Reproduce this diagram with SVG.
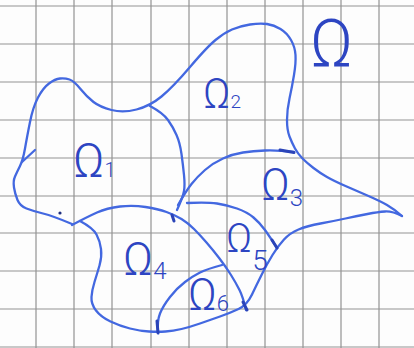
<svg xmlns="http://www.w3.org/2000/svg" width="414" height="348" viewBox="0 0 414 348">
<style>
.grid line{stroke:#939393;stroke-width:1.2}
.pen{fill:none;stroke:#4368e0;stroke-width:2.3;stroke-linecap:round;stroke-linejoin:round}
.tick{fill:none;stroke:#2b44b8;stroke-width:3;stroke-linecap:round}
.lbl{font-family:Roboto,"Liberation Sans",Arial,sans-serif;font-weight:300;fill:#2d45c2}
</style>
<rect width="414" height="348" fill="#fdfdfd"/>
<g class="grid">
<line x1="36" y1="0" x2="36" y2="348"/><line x1="74" y1="0" x2="74" y2="348"/><line x1="112" y1="0" x2="112" y2="348"/><line x1="151" y1="0" x2="151" y2="348"/><line x1="189" y1="0" x2="189" y2="348"/><line x1="227" y1="0" x2="227" y2="348"/><line x1="265" y1="0" x2="265" y2="348"/><line x1="303" y1="0" x2="303" y2="348"/><line x1="341" y1="0" x2="341" y2="348"/><line x1="379" y1="0" x2="379" y2="348"/>
<line x1="0" y1="6" x2="414" y2="6"/><line x1="0" y1="44" x2="414" y2="44"/><line x1="0" y1="82" x2="414" y2="82"/><line x1="0" y1="120" x2="414" y2="120"/><line x1="0" y1="158" x2="414" y2="158"/><line x1="0" y1="196" x2="414" y2="196"/><line x1="0" y1="233" x2="414" y2="233"/><line x1="0" y1="271" x2="414" y2="271"/><line x1="0" y1="309" x2="414" y2="309"/><line x1="0" y1="347" x2="414" y2="347"/>
</g>
<g id="boundaries">
<path class="pen" d="M72,224 Q53,216 43,213.5 Q33,211 26.5,208.5 Q20,206 17.5,200 Q15,194 14,187.5 Q13,181 15,176.5 Q17,172 20,166 Q23,160 25,148.5 Q27,137 30,122 Q33,107 38,97.5 Q43,88 49,83.5 Q55,79 60,78.5 Q65,78 69.5,79.5 Q74,81 80.5,89 Q87,97 93.5,102 Q100,107 111.5,110 Q123,113 136.5,109.5 Q150,106 161.5,96.5 Q173,87 190,67 Q207,47 215.5,40 Q224,33 232,29.5 Q240,26 250,24.5 Q260,23 267,24 Q274,25 280.5,29 Q287,33 291,40 Q295,47 295.5,55 Q296,63 294,75 Q292,87 289.5,98.5 Q287,110 287,120 Q287,130 289.5,136.5 Q292,143 295,148.5 Q298,154 302.5,158.5 Q307,163 313.5,168 Q320,173 327,177 Q334,181 345.5,186 Q357,191 368.5,196 Q380,201 387,205 Q394,209 402,216"/>
<path class="pen" d="M402,216 Q392,211 385,211.5 Q378,212 367.5,214 Q357,216 345.5,218.5 Q334,221 320.5,223.5 Q307,226 298.5,229.5 Q290,233 284,239.5 Q278,246 272.5,255 Q267,264 262,274 Q257,284 252,294.5 Q247,305 238.5,309 Q230,313 220,316.5 Q210,320 200,323.5 Q190,327 181.5,329 Q173,331 165.5,331.5 Q158,332 149,331.5 Q140,331 130,328.5 Q120,326 110.5,321.5 Q101,317 96,310.5 Q91,304 91.5,297 Q92,290 94.5,282 Q97,274 99.5,265.5 Q102,257 101,249 Q100,241 96.5,234.5 Q93,228 80,221"/>
<path class="pen" d="M72,225 Q87,217 97,212.5 Q107,208 120,206.5 Q133,205 145.5,207 Q158,209 166.5,212 Q175,215 181.5,219 Q188,223 194,229 Q200,235 206.5,242.5 Q213,250 219.5,258.5 Q226,267 231,275 Q236,283 239.5,290 Q243,297 246,310"/>
<path class="pen" d="M150,106 Q163,113 168,120 Q173,127 176.5,135 Q180,143 181.5,154 Q183,165 184,175 Q185,185 184,191 Q183,197 177,210"/>
<path class="pen" d="M294,152 Q277,150 265,150.5 Q253,151 243,152.5 Q233,154 223,158.5 Q213,163 205,170 Q197,177 191.5,184 Q186,191 178,205"/>
<path class="pen" d="M187,203 Q207,202 217,203.5 Q227,205 237,208.5 Q247,212 253.5,217.5 Q260,223 265,230 Q270,237 277,248"/>
<path class="pen" d="M158,333 Q157,321 160,313.5 Q163,306 170,297 Q177,288 185,282 Q193,276 200,272.5 Q207,269 222,265"/>
<path class="pen" d="M22,162 L35,150"/>
<path class="tick" d="M280,150 L294,152.5"/>
<path class="tick" d="M243,302 L247,310"/>
<path class="tick" d="M272,240 L277,248"/>
<path class="tick" d="M157,321 L158,333"/>
<path class="tick" d="M172,215 L174,221"/>
<circle cx="60" cy="213" r="1.6" fill="#1f2f80"/>
</g>
<g id="labels" class="lbl">
<text x="310" y="67" font-size="66">Ω</text>
<text x="73" y="177" font-size="48">Ω<tspan font-size="20">1</tspan></text>
<text x="203" y="108" font-size="42">Ω<tspan font-size="19">2</tspan></text>
<text x="261" y="200" font-size="44">Ω<tspan font-size="24" dy="6">3</tspan></text>
<text x="123" y="275" font-size="46">Ω<tspan font-size="24" dy="4">4</tspan></text>
<text x="226" y="252" font-size="40">Ω<tspan font-size="28" dy="18">5</tspan></text>
<text x="188" y="310" font-size="44">Ω<tspan font-size="22" dy="1">6</tspan></text>
</g>
</svg>
